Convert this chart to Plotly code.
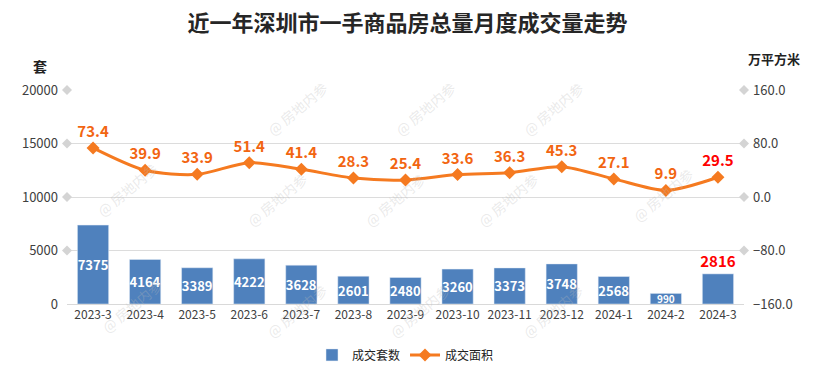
import plotly.graph_objects as go

categories = ["2023-3","2023-4","2023-5","2023-6","2023-7","2023-8","2023-9",
              "2023-10","2023-11","2023-12","2024-1","2024-2","2024-3"]
units = [7375,4164,3389,4222,3628,2601,2480,3260,3373,3748,2568,990,2816]
area = [73.4,39.9,33.9,51.4,41.4,28.3,25.4,33.6,36.3,45.3,27.1,9.9,29.5]
left_ticks = [0,5000,10000,15000,20000]
right_ticks = [-160,-80,0,80,160]
Y_MAX = 20000

FONT = "Noto Sans CJK SC, Microsoft YaHei, sans-serif"
BLUE = "#4F81BD"
ORANGE = "#F57A20"
LABEL_OR = "#F26511"
RED = "#FF0000"

n = len(categories)
bar_pos = ["inside"] * (n - 1) + ["outside"]
bar_col = ["white"] * (n - 1) + [RED]
bar_size = [13] * (n - 1) + [15]
bar_size[11] = 10
line_col = [LABEL_OR] * (n - 1) + [RED]

fig = go.Figure()
fig.add_trace(go.Bar(
    x=categories, y=units, name="成交套数", marker_color=BLUE, width=0.6,
    text=[str(v) for v in units], textposition=bar_pos, insidetextanchor="middle",
    constraintext="none", cliponaxis=False, textangle=0,
    textfont=dict(color=bar_col, size=bar_size, family=FONT, weight="bold"),
    yaxis="y", hoverinfo="skip"))
fig.add_trace(go.Scatter(
    x=categories, y=area, name="成交面积", mode="lines+markers+text",
    line=dict(color=ORANGE, width=3, shape="spline", smoothing=0.8),
    marker=dict(symbol="diamond", size=10, color=ORANGE),
    text=[f"{v:.1f}" for v in area], textposition="top center",
    textfont=dict(color=line_col, size=15, family=FONT, weight="bold"),
    yaxis="y2", cliponaxis=False, hoverinfo="skip"))

shapes = []
for t in left_ticks[1:]:
    for xp in (0, 1):
        shapes.append(dict(type="path", xref="paper", yref="paper", xsizemode="pixel",
                           ysizemode="pixel", xanchor=xp, yanchor=t / Y_MAX,
                           path="M -5 0 L 0 5 L 5 0 L 0 -5 Z",
                           fillcolor="#D4D4D4", line=dict(width=0)))

annotations = [
    dict(text="套", xref="paper", yref="paper", x=-0.04, y=1.0, yshift=12,
         showarrow=False, font=dict(size=14, color="#222", family=FONT, weight="bold"),
         xanchor="center", yanchor="bottom"),
    dict(text="万平方米", xref="paper", yref="paper", x=1.045, y=1.0, yshift=20,
         showarrow=False, font=dict(size=13, color="#222", family=FONT, weight="bold"),
         xanchor="center", yanchor="bottom"),
]
wm = [(260,75),(425,75),(590,75),
      (90,190),(240,200),(395,200),(545,200),(700,195),
      (95,340),(260,345),(420,345),(590,345)]
for (px, py) in wm:
    annotations.append(dict(text="@ 房地内参", xref="paper", yref="paper",
                            x=(px - 67) / 677, y=(304 - py) / 214, showarrow=False,
                            textangle=-40, font=dict(size=14, color="rgba(185,185,185,0.3)",
                                                     family=FONT)))

fig.update_layout(
    width=815, height=387, plot_bgcolor="white", paper_bgcolor="white",
    margin=dict(l=67, r=71, t=90, b=83, autoexpand=False),
    title=dict(text="<b>近一年深圳市一手商品房总量月度成交量走势</b>", x=0.5, xanchor="center",
               y=0.94, yanchor="middle", font=dict(size=22, color="#262626", family=FONT)),
    font=dict(family=FONT, color="#444", size=12),
    xaxis=dict(type="category", range=[-0.5, n - 0.5], showgrid=False, showline=True,
               linecolor="#D9D9D9", linewidth=1, ticks="", automargin=False, tickangle=0,
               tickfont=dict(size=12, color="#404040")),
    yaxis=dict(range=[0, Y_MAX], tickvals=left_ticks, ticktext=[str(v) for v in left_ticks],
               showgrid=True, gridcolor="#DCDCDC", automargin=False,
               gridwidth=1.2, zeroline=False, ticks="", ticklabelstandoff=8,
               tickfont=dict(size=13, color="#404040")),
    yaxis2=dict(range=[-160, 160], tickvals=right_ticks, overlaying="y", side="right",
                showgrid=False, zeroline=False, ticks="", tickformat=".1f", automargin=False,
                ticklabelstandoff=8, tickfont=dict(size=13, color="#404040")),
    legend=dict(orientation="h", x=0.5, xanchor="center", y=-0.17, yanchor="top",
                font=dict(size=12, color="#222"), traceorder="normal"),
    shapes=shapes, annotations=annotations, bargap=0.4,
)
fig.write_html("out.html", config={"displayModeBar": False},
               post_script="document.body.style.margin='0';")
